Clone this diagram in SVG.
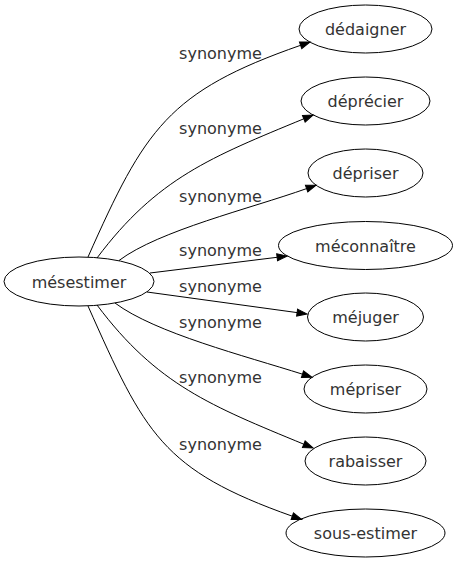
<svg xmlns="http://www.w3.org/2000/svg" width="458" height="563" viewBox="0 0 458 563">
<style>
.n ellipse{fill:none;stroke:#000;stroke-width:1}
text{font-family:"DejaVu Sans",sans-serif;font-size:16px;fill:#333;text-anchor:middle}
.e path{fill:none;stroke:#000;stroke-width:1;marker-end:url(#ah)}
</style>
<defs>
<marker id="ah" markerUnits="userSpaceOnUse" markerWidth="10" markerHeight="7" refX="0" refY="3.5" orient="auto" overflow="visible">
<path d="M0,0 L10,3.5 L0,7 Z" fill="#000" stroke="#000" stroke-width="1"/>
</marker>
</defs>
<rect width="458" height="563" fill="#fff"/>
<g id="connectors" class="e">
<path d="M88,257 C145,129 168,91.5 300.6,45.3"/>
<path d="M97,258 C157,178 211.4,157 303.8,118.8"/>
<path d="M119,260.5 C159,230.5 250,208.7 306.6,188.6"/>
<path d="M150,273 L277.1,257.3"/>
<path d="M147,292 L297.1,312.6"/>
<path d="M115,303 C155,333 245.3,356 302.5,374.2"/>
<path d="M97,305 C157,385 211.4,406 303.8,444.2"/>
<path d="M88,306 C145,434 162,470 292.3,516.2"/>
</g>
<g id="labels">
<text x="220.5" y="59">synonyme</text>
<text x="220.5" y="134">synonyme</text>
<text x="220.5" y="202">synonyme</text>
<text x="220.5" y="256">synonyme</text>
<text x="220.5" y="292">synonyme</text>
<text x="220.5" y="328">synonyme</text>
<text x="220.5" y="383">synonyme</text>
<text x="220.5" y="450">synonyme</text>
</g>
<g id="mesestimer" class="n"><ellipse cx="79" cy="281.5" rx="75" ry="24.5"/><text x="79" y="287.5">mésestimer</text></g>
<g id="dedaigner" class="n"><ellipse cx="365.5" cy="29" rx="66.5" ry="24"/><text x="365.5" y="35">dédaigner</text></g>
<g id="deprecier" class="n"><ellipse cx="365.5" cy="101" rx="64.5" ry="24"/><text x="365.5" y="107">déprécier</text></g>
<g id="depriser" class="n"><ellipse cx="365.5" cy="173" rx="57.5" ry="24"/><text x="365.5" y="179">dépriser</text></g>
<g id="meconnaitre" class="n"><ellipse cx="365.5" cy="245.5" rx="87" ry="24"/><text x="365.5" y="251.5">méconnaître</text></g>
<g id="mejuger" class="n"><ellipse cx="365.5" cy="317" rx="58" ry="24"/><text x="365.5" y="323">méjuger</text></g>
<g id="mepriser" class="n"><ellipse cx="365.5" cy="389" rx="61.5" ry="24"/><text x="365.5" y="395">mépriser</text></g>
<g id="rabaisser" class="n"><ellipse cx="365.5" cy="461" rx="60.5" ry="24"/><text x="365.5" y="467">rabaisser</text></g>
<g id="sous-estimer" class="n"><ellipse cx="365.5" cy="533" rx="79.5" ry="24"/><text x="365.5" y="539">sous-estimer</text></g>
</svg>
